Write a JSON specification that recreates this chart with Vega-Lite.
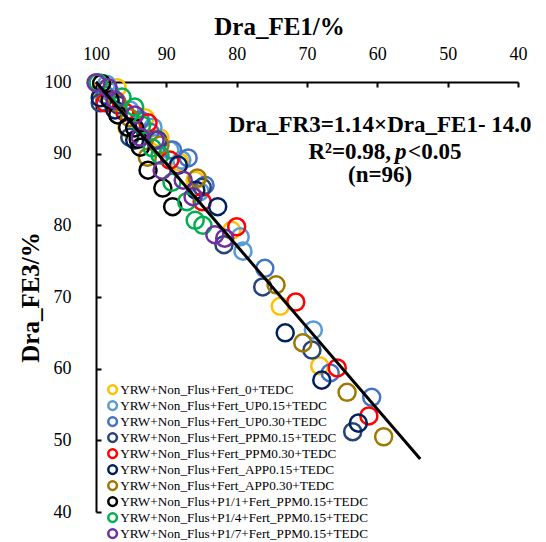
{
  "$schema": "https://vega.github.io/schema/vega-lite/v6.json",
  "autosize": {"type": "none"},
  "padding": {"left": 96, "top": 82, "right": 28, "bottom": 30},
  "width": 422,
  "height": 430,
  "background": "white",
  "config": {
    "view": {"stroke": null},
    "font": "Liberation Serif",
    "axis": {
      "grid": false,
      "domainColor": "black",
      "domainWidth": 2,
      "tickColor": "black",
      "tickWidth": 2,
      "tickSize": -5,
      "labelFlush": false,
      "labelOverlap": false,
      "labelFont": "Liberation Serif",
      "labelFontSize": 18,
      "labelColor": "black",
      "titleFont": "Liberation Serif",
      "titleFontSize": 25,
      "titleFontWeight": "bold",
      "titleColor": "black"
    }
  },
  "data": {"values": [
    {"g": "YRW+Non_Flus+Fert_0+TEDC", "fe1": 97.0, "fe3": 99.2},
    {"g": "YRW+Non_Flus+Fert_0+TEDC", "fe1": 99.3, "fe3": 98.8},
    {"g": "YRW+Non_Flus+Fert_0+TEDC", "fe1": 95.6, "fe3": 93.6},
    {"g": "YRW+Non_Flus+Fert_0+TEDC", "fe1": 93.0, "fe3": 95.0},
    {"g": "YRW+Non_Flus+Fert_0+TEDC", "fe1": 90.9, "fe3": 92.2},
    {"g": "YRW+Non_Flus+Fert_0+TEDC", "fe1": 88.1, "fe3": 88.8},
    {"g": "YRW+Non_Flus+Fert_0+TEDC", "fe1": 85.9, "fe3": 86.3},
    {"g": "YRW+Non_Flus+Fert_0+TEDC", "fe1": 80.7, "fe3": 79.3},
    {"g": "YRW+Non_Flus+Fert_0+TEDC", "fe1": 73.8, "fe3": 68.7},
    {"g": "YRW+Non_Flus+Fert_0+TEDC", "fe1": 68.2, "fe3": 60.4},
    {"g": "YRW+Non_Flus+Fert_UP0.15+TEDC", "fe1": 98.0, "fe3": 98.6},
    {"g": "YRW+Non_Flus+Fert_UP0.15+TEDC", "fe1": 98.5, "fe3": 99.7},
    {"g": "YRW+Non_Flus+Fert_UP0.15+TEDC", "fe1": 95.2, "fe3": 96.1},
    {"g": "YRW+Non_Flus+Fert_UP0.15+TEDC", "fe1": 91.9, "fe3": 93.7},
    {"g": "YRW+Non_Flus+Fert_UP0.15+TEDC", "fe1": 89.5, "fe3": 90.5},
    {"g": "YRW+Non_Flus+Fert_UP0.15+TEDC", "fe1": 87.8, "fe3": 89.1},
    {"g": "YRW+Non_Flus+Fert_UP0.15+TEDC", "fe1": 85.2, "fe3": 84.7},
    {"g": "YRW+Non_Flus+Fert_UP0.15+TEDC", "fe1": 79.5, "fe3": 78.4},
    {"g": "YRW+Non_Flus+Fert_UP0.15+TEDC", "fe1": 79.1, "fe3": 76.4},
    {"g": "YRW+Non_Flus+Fert_UP0.15+TEDC", "fe1": 69.1, "fe3": 65.4},
    {"g": "YRW+Non_Flus+Fert_UP0.30+TEDC", "fe1": 98.7, "fe3": 98.2},
    {"g": "YRW+Non_Flus+Fert_UP0.30+TEDC", "fe1": 93.7, "fe3": 94.7},
    {"g": "YRW+Non_Flus+Fert_UP0.30+TEDC", "fe1": 92.3, "fe3": 93.0},
    {"g": "YRW+Non_Flus+Fert_UP0.30+TEDC", "fe1": 89.1, "fe3": 90.5},
    {"g": "YRW+Non_Flus+Fert_UP0.30+TEDC", "fe1": 86.9, "fe3": 89.4},
    {"g": "YRW+Non_Flus+Fert_UP0.30+TEDC", "fe1": 84.5, "fe3": 85.6},
    {"g": "YRW+Non_Flus+Fert_UP0.30+TEDC", "fe1": 76.0, "fe3": 74.0},
    {"g": "YRW+Non_Flus+Fert_UP0.30+TEDC", "fe1": 66.7, "fe3": 59.4},
    {"g": "YRW+Non_Flus+Fert_UP0.30+TEDC", "fe1": 60.8, "fe3": 56.0},
    {"g": "YRW+Non_Flus+Fert_PPM0.15+TEDC", "fe1": 99.4, "fe3": 97.1},
    {"g": "YRW+Non_Flus+Fert_PPM0.15+TEDC", "fe1": 96.9, "fe3": 96.8},
    {"g": "YRW+Non_Flus+Fert_PPM0.15+TEDC", "fe1": 95.2, "fe3": 92.3},
    {"g": "YRW+Non_Flus+Fert_PPM0.15+TEDC", "fe1": 91.2, "fe3": 91.9},
    {"g": "YRW+Non_Flus+Fert_PPM0.15+TEDC", "fe1": 84.9, "fe3": 85.3},
    {"g": "YRW+Non_Flus+Fert_PPM0.15+TEDC", "fe1": 81.8, "fe3": 77.3},
    {"g": "YRW+Non_Flus+Fert_PPM0.15+TEDC", "fe1": 76.3, "fe3": 71.4},
    {"g": "YRW+Non_Flus+Fert_PPM0.15+TEDC", "fe1": 69.3, "fe3": 62.6},
    {"g": "YRW+Non_Flus+Fert_PPM0.15+TEDC", "fe1": 63.5, "fe3": 51.2},
    {"g": "YRW+Non_Flus+Fert_PPM0.30+TEDC", "fe1": 98.7, "fe3": 97.1},
    {"g": "YRW+Non_Flus+Fert_PPM0.30+TEDC", "fe1": 95.9, "fe3": 95.8},
    {"g": "YRW+Non_Flus+Fert_PPM0.30+TEDC", "fe1": 92.6, "fe3": 94.3},
    {"g": "YRW+Non_Flus+Fert_PPM0.30+TEDC", "fe1": 89.5, "fe3": 89.1},
    {"g": "YRW+Non_Flus+Fert_PPM0.30+TEDC", "fe1": 84.9, "fe3": 83.3},
    {"g": "YRW+Non_Flus+Fert_PPM0.30+TEDC", "fe1": 80.0, "fe3": 79.8},
    {"g": "YRW+Non_Flus+Fert_PPM0.30+TEDC", "fe1": 71.6, "fe3": 69.3},
    {"g": "YRW+Non_Flus+Fert_PPM0.30+TEDC", "fe1": 65.7, "fe3": 60.1},
    {"g": "YRW+Non_Flus+Fert_PPM0.30+TEDC", "fe1": 61.2, "fe3": 53.4},
    {"g": "YRW+Non_Flus+Fert_APP0.15+TEDC", "fe1": 99.4, "fe3": 97.8},
    {"g": "YRW+Non_Flus+Fert_APP0.15+TEDC", "fe1": 97.3, "fe3": 96.1},
    {"g": "YRW+Non_Flus+Fert_APP0.15+TEDC", "fe1": 94.5, "fe3": 91.9},
    {"g": "YRW+Non_Flus+Fert_APP0.15+TEDC", "fe1": 88.3, "fe3": 88.4},
    {"g": "YRW+Non_Flus+Fert_APP0.15+TEDC", "fe1": 85.8, "fe3": 84.9},
    {"g": "YRW+Non_Flus+Fert_APP0.15+TEDC", "fe1": 82.7, "fe3": 82.6},
    {"g": "YRW+Non_Flus+Fert_APP0.15+TEDC", "fe1": 73.1, "fe3": 65.0},
    {"g": "YRW+Non_Flus+Fert_APP0.15+TEDC", "fe1": 67.9, "fe3": 58.4},
    {"g": "YRW+Non_Flus+Fert_APP0.15+TEDC", "fe1": 62.7, "fe3": 52.4},
    {"g": "YRW+Non_Flus+Fert_APP0.30+TEDC", "fe1": 97.0, "fe3": 97.2},
    {"g": "YRW+Non_Flus+Fert_APP0.30+TEDC", "fe1": 95.2, "fe3": 95.0},
    {"g": "YRW+Non_Flus+Fert_APP0.30+TEDC", "fe1": 92.7, "fe3": 89.5},
    {"g": "YRW+Non_Flus+Fert_APP0.30+TEDC", "fe1": 90.9, "fe3": 91.2},
    {"g": "YRW+Non_Flus+Fert_APP0.30+TEDC", "fe1": 85.6, "fe3": 86.6},
    {"g": "YRW+Non_Flus+Fert_APP0.30+TEDC", "fe1": 74.4, "fe3": 71.7},
    {"g": "YRW+Non_Flus+Fert_APP0.30+TEDC", "fe1": 70.6, "fe3": 63.6},
    {"g": "YRW+Non_Flus+Fert_APP0.30+TEDC", "fe1": 64.3, "fe3": 56.7},
    {"g": "YRW+Non_Flus+Fert_APP0.30+TEDC", "fe1": 59.1, "fe3": 50.5},
    {"g": "YRW+Non_Flus+P1/1+Fert_PPM0.15+TEDC", "fe1": 99.2, "fe3": 99.8},
    {"g": "YRW+Non_Flus+P1/1+Fert_PPM0.15+TEDC", "fe1": 98.0, "fe3": 97.5},
    {"g": "YRW+Non_Flus+P1/1+Fert_PPM0.15+TEDC", "fe1": 96.9, "fe3": 95.4},
    {"g": "YRW+Non_Flus+P1/1+Fert_PPM0.15+TEDC", "fe1": 95.5, "fe3": 93.7},
    {"g": "YRW+Non_Flus+P1/1+Fert_PPM0.15+TEDC", "fe1": 94.5, "fe3": 93.6},
    {"g": "YRW+Non_Flus+P1/1+Fert_PPM0.15+TEDC", "fe1": 93.7, "fe3": 90.9},
    {"g": "YRW+Non_Flus+P1/1+Fert_PPM0.15+TEDC", "fe1": 92.6, "fe3": 87.7},
    {"g": "YRW+Non_Flus+P1/1+Fert_PPM0.15+TEDC", "fe1": 90.5, "fe3": 85.2},
    {"g": "YRW+Non_Flus+P1/1+Fert_PPM0.15+TEDC", "fe1": 89.1, "fe3": 82.6},
    {"g": "YRW+Non_Flus+P1/1+Fert_PPM0.15+TEDC", "fe1": 94.0, "fe3": 92.0},
    {"g": "YRW+Non_Flus+P1/4+Fert_PPM0.15+TEDC", "fe1": 99.7, "fe3": 99.9},
    {"g": "YRW+Non_Flus+P1/4+Fert_PPM0.15+TEDC", "fe1": 96.3, "fe3": 97.9},
    {"g": "YRW+Non_Flus+P1/4+Fert_PPM0.15+TEDC", "fe1": 94.5, "fe3": 96.5},
    {"g": "YRW+Non_Flus+P1/4+Fert_PPM0.15+TEDC", "fe1": 93.5, "fe3": 94.0},
    {"g": "YRW+Non_Flus+P1/4+Fert_PPM0.15+TEDC", "fe1": 92.0, "fe3": 90.8},
    {"g": "YRW+Non_Flus+P1/4+Fert_PPM0.15+TEDC", "fe1": 90.9, "fe3": 89.8},
    {"g": "YRW+Non_Flus+P1/4+Fert_PPM0.15+TEDC", "fe1": 89.2, "fe3": 86.0},
    {"g": "YRW+Non_Flus+P1/4+Fert_PPM0.15+TEDC", "fe1": 87.1, "fe3": 83.3},
    {"g": "YRW+Non_Flus+P1/4+Fert_PPM0.15+TEDC", "fe1": 85.9, "fe3": 80.7},
    {"g": "YRW+Non_Flus+P1/4+Fert_PPM0.15+TEDC", "fe1": 84.8, "fe3": 80.0},
    {"g": "YRW+Non_Flus+P1/7+Fert_PPM0.15+TEDC", "fe1": 100.0, "fe3": 99.9},
    {"g": "YRW+Non_Flus+P1/7+Fert_PPM0.15+TEDC", "fe1": 98.3, "fe3": 99.2},
    {"g": "YRW+Non_Flus+P1/7+Fert_PPM0.15+TEDC", "fe1": 97.3, "fe3": 97.5},
    {"g": "YRW+Non_Flus+P1/7+Fert_PPM0.15+TEDC", "fe1": 94.5, "fe3": 95.4},
    {"g": "YRW+Non_Flus+P1/7+Fert_PPM0.15+TEDC", "fe1": 93.7, "fe3": 92.3},
    {"g": "YRW+Non_Flus+P1/7+Fert_PPM0.15+TEDC", "fe1": 91.6, "fe3": 91.9},
    {"g": "YRW+Non_Flus+P1/7+Fert_PPM0.15+TEDC", "fe1": 90.6, "fe3": 87.7},
    {"g": "YRW+Non_Flus+P1/7+Fert_PPM0.15+TEDC", "fe1": 87.6, "fe3": 86.3},
    {"g": "YRW+Non_Flus+P1/7+Fert_PPM0.15+TEDC", "fe1": 86.2, "fe3": 84.0},
    {"g": "YRW+Non_Flus+P1/7+Fert_PPM0.15+TEDC", "fe1": 83.1, "fe3": 78.7},
    {"g": "YRW+Non_Flus+P1/7+Fert_PPM0.15+TEDC", "fe1": 81.7, "fe3": 78.2}
  ]},
  "layer": [
    {
      "mark": {"type": "point", "filled": false, "shape": "circle", "size": 290, "strokeWidth": 2.5, "opacity": 1},
      "encoding": {
        "x": {"field": "fe1", "type": "quantitative",
          "scale": {"domain": [40, 100], "reverse": true, "nice": false, "zero": false},
          "axis": {"orient": "top", "values": [100, 90, 80, 70, 60, 50, 40], "title": "Dra_FE1/%", "labelPadding": 24, "titlePadding": 6, "titleX": 183}},
        "y": {"field": "fe3", "type": "quantitative",
          "scale": {"domain": [40, 100], "nice": false, "zero": false},
          "axis": {"values": [40, 50, 60, 70, 80, 90, 100], "title": "Dra_FE3/%", "labelPadding": 30, "titlePadding": 1}},
        "color": {"field": "g", "type": "nominal",
          "scale": {
            "domain": ["YRW+Non_Flus+Fert_0+TEDC", "YRW+Non_Flus+Fert_UP0.15+TEDC", "YRW+Non_Flus+Fert_UP0.30+TEDC", "YRW+Non_Flus+Fert_PPM0.15+TEDC", "YRW+Non_Flus+Fert_PPM0.30+TEDC", "YRW+Non_Flus+Fert_APP0.15+TEDC", "YRW+Non_Flus+Fert_APP0.30+TEDC", "YRW+Non_Flus+P1/1+Fert_PPM0.15+TEDC", "YRW+Non_Flus+P1/4+Fert_PPM0.15+TEDC", "YRW+Non_Flus+P1/7+Fert_PPM0.15+TEDC"],
            "range": ["#FFC000", "#5B9BD5", "#4472C4", "#264478", "#FF0000", "#002060", "#9E7800", "#000000", "#00B050", "#7030A0"]
          },
          "legend": {
            "title": null,
            "orient": "none",
            "legendX": 10,
            "legendY": 301,
            "symbolType": "circle",
            "symbolSize": 75,
            "symbolStrokeWidth": 2.5,
            "labelFont": "Liberation Serif",
            "labelFontSize": 13.2,
            "labelColor": "black",
            "labelOffset": 1,
            "rowPadding": -5,
            "padding": 0,
            "labelLimit": 400
          }
        }
      }
    },
    {
      "data": {"values": [{"fe1": 100, "fe3": 100}, {"fe1": 53.9, "fe3": 47.4}]},
      "mark": {"type": "line", "color": "black", "strokeWidth": 3},
      "encoding": {
        "x": {"field": "fe1", "type": "quantitative"},
        "y": {"field": "fe3", "type": "quantitative"}
      }
    },
    {
      "data": {"values": [
        {"fe1": 59.6, "fe3": 94.0, "t": "Dra_FR3=1.14×Dra_FE1- 14.0"},
        {"fe1": 59.6, "fe3": 87.0, "t": "(n=96)"}
      ]},
      "mark": {"type": "text", "font": "Liberation Serif", "fontSize": 23, "fontWeight": "bold", "color": "black", "align": "center", "baseline": "middle"},
      "encoding": {
        "x": {"field": "fe1", "type": "quantitative"},
        "y": {"field": "fe3", "type": "quantitative"},
        "text": {"field": "t"}
      }
    },
    {
      "data": {"values": [{"fe1": 58.05, "fe3": 90.2, "t": "R²=0.98, "}]},
      "mark": {"type": "text", "font": "Liberation Serif", "fontSize": 23, "fontWeight": "bold", "color": "black", "align": "right", "baseline": "middle"},
      "encoding": {
        "x": {"field": "fe1", "type": "quantitative"},
        "y": {"field": "fe3", "type": "quantitative"},
        "text": {"field": "t"}
      }
    },
    {
      "data": {"values": [{"fe1": 58.05, "fe3": 90.2, "t": "p"}]},
      "mark": {"type": "text", "font": "Liberation Serif", "fontSize": 23, "fontWeight": "bold", "fontStyle": "italic", "color": "black", "align": "left", "baseline": "middle", "dx": 4},
      "encoding": {
        "x": {"field": "fe1", "type": "quantitative"},
        "y": {"field": "fe3", "type": "quantitative"},
        "text": {"field": "t"}
      }
    },
    {
      "data": {"values": [{"fe1": 58.05, "fe3": 90.2, "t": "<0.05"}]},
      "mark": {"type": "text", "font": "Liberation Serif", "fontSize": 23, "fontWeight": "bold", "color": "black", "align": "left", "baseline": "middle", "dx": 17},
      "encoding": {
        "x": {"field": "fe1", "type": "quantitative"},
        "y": {"field": "fe3", "type": "quantitative"},
        "text": {"field": "t"}
      }
    }
  ]
}
